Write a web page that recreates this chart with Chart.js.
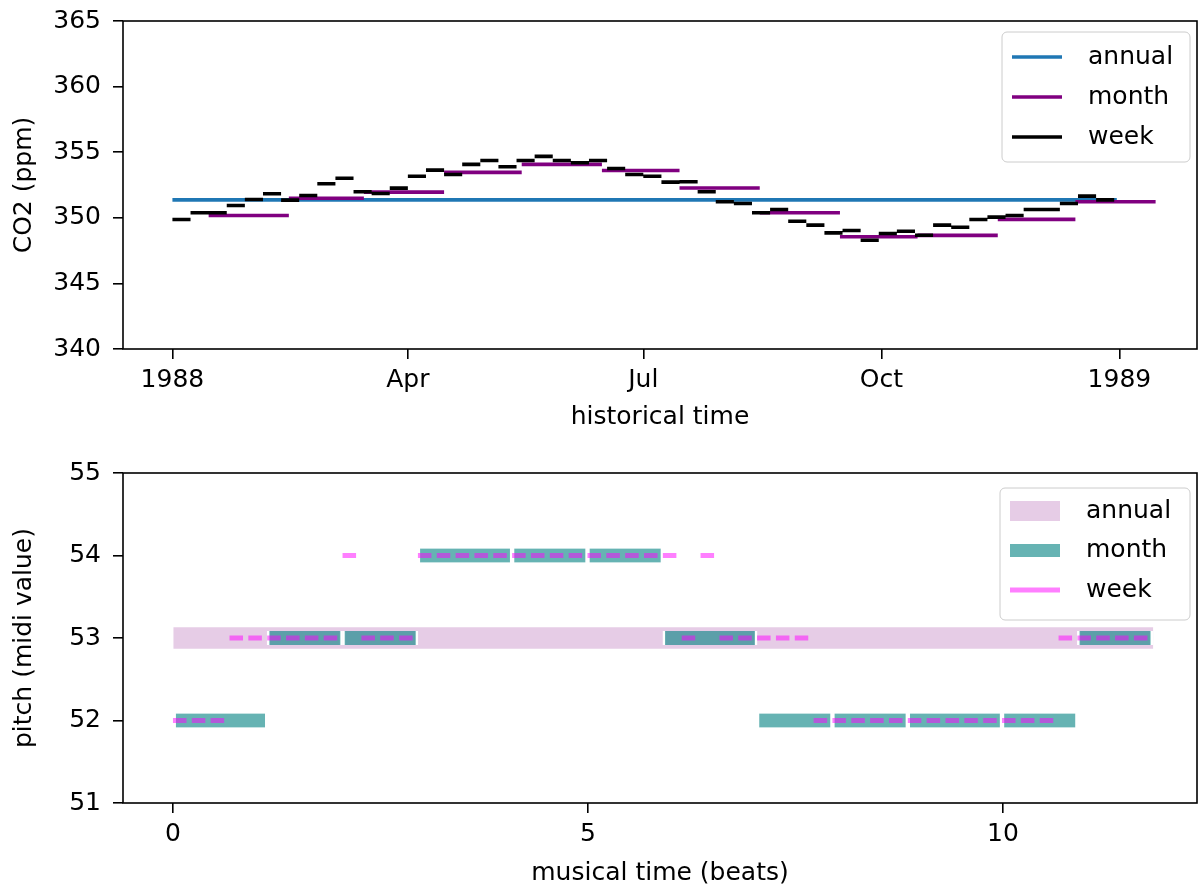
<!DOCTYPE html>
<html>
<head>
<meta charset="utf-8">
<script src="https://cdn.jsdelivr.net/npm/chart.js@4.4.1/dist/chart.umd.min.js"></script>
<style>
    body { margin: 0; background: #fff; }
    #figure { position: relative; width: 1198px; height: 888px; }
    #figure canvas { position: absolute; left: 0; }
</style>
</head>
<body>
<div id="figure">
    <canvas id="co2Chart" width="1198" height="444" style="top:0"></canvas>
    <canvas id="pitchChart" width="1198" height="444" style="top:444px"></canvas>
</div>
<script>
// ---- CO2 (ppm), valores ----
const annualCO2 = 351.37;
const annualPeriod = ['1988-01-01', '1988-12-31'];

const monthCO2 = [350.17, 351.49, 351.96, 353.46, 354.07, 353.60, 352.27, 350.38, 348.56, 348.66, 349.88, 351.22];
// médias mensais marcadas no meio do mês (a última termina em jan/1989)
const monthDates = ['1988-01-15', '1988-02-15', '1988-03-15', '1988-04-15', '1988-05-15', '1988-06-15',
                    '1988-07-15', '1988-08-15', '1988-09-15', '1988-10-15', '1988-11-15', '1988-12-15', '1989-01-15'];

const weekCO2 = [349.87, 350.38, 350.38, 350.94, 351.40, 351.83, 351.35, 351.70, 352.60, 353.02,
                 351.98, 351.85, 352.26, 353.17, 353.63, 353.30, 354.07, 354.37, 353.89, 354.37,
                 354.68, 354.37, 354.20, 354.37, 353.76, 353.30, 353.17, 352.72, 352.75, 351.98,
                 351.22, 351.09, 350.38, 350.63, 349.74, 349.44, 348.85, 349.03, 348.29, 348.80,
                 348.98, 348.67, 349.44, 349.28, 349.87, 350.05, 350.18, 350.63, 350.63, 351.09,
                 351.65, 351.37];
const weekStart = '1988-01-01';
const weekDays = 7;

const historicalTicks = ['1988-01-01', '1988-04-01', '1988-07-01', '1988-10-01', '1989-01-01'];
const historicalLabels = ['1988', 'Apr', 'Jul', 'Oct', '1989'];
const co2Ticks = [340, 345, 350, 355, 360, 365];

// ---- Tempo musical / altura (midi) ----
const annualPitch = 53;
const monthPitch = [52, 53, 53, 54, 54, 54, 53, 52, 52, 52, 52, 53];
const monthWeeks = [5, 4, 4, 5, 4, 4, 5, 4, 4, 5, 4, 4];
const weekPitch = [52, 52, 52, 53, 53, 53, 53, 53, 53, 54,
                   53, 53, 53, 54, 54, 54, 54, 54, 54, 54,
                   54, 54, 54, 54, 54, 54, 54, 53, 54, 53,
                   53, 53, 53, 53, 52, 52, 52, 52, 52, 52,
                   52, 52, 52, 52, 52, 52, 52, 53, 53, 53,
                   53, 53];
const beatsPerWeek = 0.227;
const noteBeats = 0.163;
const beatTicks = [0, 5, 10];
const beatLabels = ['0', '5', '10'];
const pitchTicks = [51, 52, 53, 54, 55];

Chart.defaults.font.family = '"DejaVu Sans"';
Chart.defaults.font.size = 25;
Chart.defaults.color = '#000';

function dayOf(iso) {
    return (Date.parse(iso) - Date.parse('1988-01-01')) / 86400000;
}

// cada segmento vira dois pontos + um null para quebrar a linha
function segmentPoints(segments) {
    const points = [];
    segments.forEach(s => {
        points.push({ x: s.start, y: s.value });
        points.push({ x: s.end, y: s.value });
        points.push({ x: s.end, y: null });
    });
    return points;
}

function fixedWidth(w) {
    return scale => { scale.width = w; };
}

function fixedHeight(h) {
    return scale => { scale.height = h; };
}

function setTicks(values) {
    return scale => { scale.ticks = values.map(v => ({ value: v })); };
}

const tickGrid = {
    drawOnChartArea: false,
    drawTicks: true,
    tickLength: 10,
    color: '#000',
    lineWidth: 1.6
};

// lineHeight pequeno só para não empurrar a área do gráfico para baixo
const yTickFont = { family: '"DejaVu Sans"', size: 25, lineHeight: 0.2 };

// moldura completa + legenda em caixa (como no matplotlib)
const frameLegendPlugin = {
    id: 'frameLegend',
    afterDraw(chart, args, opts) {
        const ctx = chart.ctx;
        const a = chart.chartArea;
        ctx.save();
        ctx.strokeStyle = '#000';
        ctx.lineWidth = 1.6;
        ctx.strokeRect(a.left, a.top, a.right - a.left, a.bottom - a.top);

        const x0 = a.right - opts.right - opts.width;
        const y0 = a.top + opts.top;
        ctx.beginPath();
        ctx.roundRect(x0, y0, opts.width, opts.height, 5);
        ctx.fillStyle = 'rgba(255,255,255,0.8)';
        ctx.fill();
        ctx.strokeStyle = '#cccccc';
        ctx.lineWidth = 1;
        ctx.stroke();

        opts.items.forEach((item, i) => {
            const y = y0 + opts.firstRow + i * opts.rowGap;
            if (item.kind === 'rect') {
                ctx.fillStyle = item.color;
                ctx.fillRect(x0 + 10, y - item.size / 2, 50, item.size);
            } else {
                ctx.strokeStyle = item.color;
                ctx.lineWidth = item.size;
                ctx.lineCap = 'butt';
                ctx.beginPath();
                ctx.moveTo(x0 + 10, y);
                ctx.lineTo(x0 + 60, y);
                ctx.stroke();
            }
            ctx.fillStyle = '#000';
            ctx.font = '25px "DejaVu Sans"';
            ctx.textAlign = 'left';
            ctx.textBaseline = 'middle';
            ctx.fillText(item.label, x0 + 86, y);
        });
        ctx.restore();
    }
};

function drawCO2Chart() {
    const annualSegs = [{ start: dayOf(annualPeriod[0]), end: dayOf(annualPeriod[1]), value: annualCO2 }];
    const monthSegs = monthCO2.map((v, i) => ({
        start: dayOf(monthDates[i]),
        end: dayOf(monthDates[i + 1]),
        value: v
    }));
    const d0 = dayOf(weekStart);
    const weekSegs = weekCO2.map((v, i) => ({
        start: d0 + i * weekDays,
        end: d0 + (i + 1) * weekDays,
        value: v
    }));

    const lineBase = { pointRadius: 0, borderCapStyle: 'butt', tension: 0, fill: false, spanGaps: false, borderWidth: 3.6 };

    new Chart(document.getElementById('co2Chart'), {
        type: 'line',
        data: {
            datasets: [
                Object.assign({ label: 'annual', data: segmentPoints(annualSegs), borderColor: '#1f77b4', order: 3 }, lineBase),
                Object.assign({ label: 'month', data: segmentPoints(monthSegs), borderColor: '#800080', order: 2 }, lineBase),
                Object.assign({ label: 'week', data: segmentPoints(weekSegs), borderColor: '#000000', order: 1 }, lineBase)
            ]
        },
        options: {
            responsive: false,
            animation: false,
            layout: { padding: { left: 0, right: 1, top: 21, bottom: 0 } },
            plugins: {
                legend: { display: false },
                tooltip: { enabled: false },
                frameLegend: {
                    right: 7, top: 11, width: 188, height: 130, firstRow: 25, rowGap: 40,
                    items: [
                        { label: 'annual', kind: 'line', color: '#1f77b4', size: 3.6 },
                        { label: 'month', kind: 'line', color: '#800080', size: 3.6 },
                        { label: 'week', kind: 'line', color: '#000000', size: 3.6 }
                    ]
                }
            },
            scales: {
                x: {
                    type: 'linear',
                    min: -19.1,
                    max: 396,
                    afterFit: fixedHeight(95),
                    afterBuildTicks: setTicks(historicalTicks.map(dayOf)),
                    grid: tickGrid,
                    border: { display: false },
                    ticks: {
                        padding: 6,
                        autoSkip: false,
                        maxRotation: 0,
                        callback: (value, index) => historicalLabels[index]
                    },
                    title: { display: true, text: 'historical time', padding: { top: 0, bottom: 12 } }
                },
                y: {
                    type: 'linear',
                    min: 340,
                    max: 365,
                    afterFit: fixedWidth(123),
                    afterBuildTicks: setTicks(co2Ticks),
                    grid: tickGrid,
                    border: { display: false },
                    ticks: { padding: 12, font: yTickFont },
                    title: { display: true, text: 'CO2 (ppm)', padding: { top: 9, bottom: 0 } }
                }
            }
        },
        plugins: [frameLegendPlugin]
    });
}

function drawPitchChart() {
    const totalBeats = weekPitch.length * beatsPerWeek;
    const annualBars = [{ x: [0, totalBeats], y: annualPitch }];

    const monthBars = [];
    let w = 0;
    monthWeeks.forEach((n, i) => {
        monthBars.push({ x: [w * beatsPerWeek, (w + n) * beatsPerWeek], y: monthPitch[i] });
        w += n;
    });

    const weekSegs = weekPitch.map((p, i) => ({
        start: i * beatsPerWeek,
        end: i * beatsPerWeek + noteBeats,
        value: p
    }));

    new Chart(document.getElementById('pitchChart'), {
        type: 'line',
        data: {
            datasets: [
                {
                    type: 'bar', label: 'annual', indexAxis: 'y', data: annualBars,
                    backgroundColor: 'rgba(128,0,128,0.2)', borderWidth: 0,
                    barThickness: 21, grouped: false, order: 3
                },
                {
                    type: 'bar', label: 'month', indexAxis: 'y', data: monthBars,
                    backgroundColor: 'rgba(0,128,128,0.6)', borderColor: '#ffffff',
                    borderWidth: { left: 2.5, right: 2.5, top: 0, bottom: 0 }, borderSkipped: false,
                    barThickness: 14, grouped: false, order: 2
                },
                {
                    type: 'line', label: 'week', data: segmentPoints(weekSegs),
                    borderColor: 'rgba(255,0,255,0.5)', borderWidth: 5, borderCapStyle: 'butt',
                    pointRadius: 0, tension: 0, fill: false, spanGaps: false, order: 1
                }
            ]
        },
        options: {
            responsive: false,
            animation: false,
            layout: { padding: { left: 0, right: 1, top: 29, bottom: 0 } },
            plugins: {
                legend: { display: false },
                tooltip: { enabled: false },
                frameLegend: {
                    right: 7, top: 15, width: 190, height: 132, firstRow: 23, rowGap: 39.5,
                    items: [
                        { label: 'annual', kind: 'rect', color: 'rgba(128,0,128,0.2)', size: 20 },
                        { label: 'month', kind: 'rect', color: 'rgba(0,128,128,0.6)', size: 13 },
                        { label: 'week', kind: 'line', color: 'rgba(255,0,255,0.5)', size: 5 }
                    ]
                }
            },
            scales: {
                x: {
                    type: 'linear',
                    min: -0.602,
                    max: 12.337,
                    afterFit: fixedHeight(85),
                    afterBuildTicks: setTicks(beatTicks),
                    grid: tickGrid,
                    border: { display: false },
                    ticks: {
                        padding: 6,
                        autoSkip: false,
                        maxRotation: 0,
                        callback: (value, index) => beatLabels[index]
                    },
                    title: { display: true, text: 'musical time (beats)', padding: { top: 0, bottom: 0 } }
                },
                y: {
                    type: 'linear',
                    min: 51,
                    max: 55,
                    offset: false,
                    afterFit: fixedWidth(123),
                    afterBuildTicks: setTicks(pitchTicks),
                    grid: Object.assign({ offset: false }, tickGrid),
                    border: { display: false },
                    ticks: { padding: 12, font: yTickFont },
                    title: { display: true, text: 'pitch (midi value)', padding: { top: 9, bottom: 0 } }
                }
            }
        },
        plugins: [frameLegendPlugin]
    });
}

drawCO2Chart();
drawPitchChart();
</script>
</body>
</html>
